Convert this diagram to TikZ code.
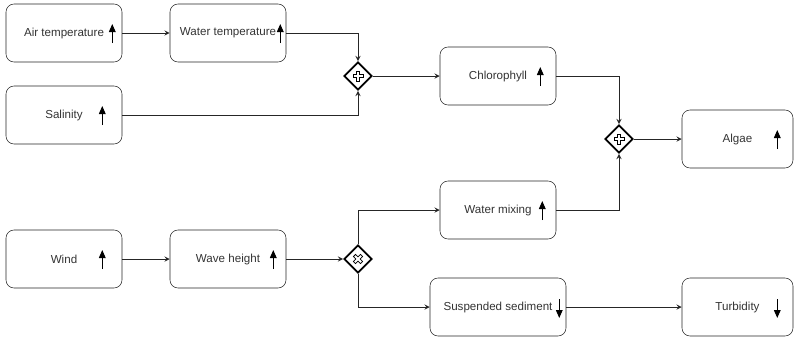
\documentclass[tikz,border=0pt]{standalone}
\usepackage{fontspec}
\setmainfont{Liberation Sans}
\usetikzlibrary{shapes}
\usetikzlibrary{arrows.meta}
\usetikzlibrary{calc}

\begin{document}
\begin{tikzpicture}[x=0.75pt, y=-0.75pt,
	box/.style={draw=black!85, rounded corners=6pt, minimum width=87pt, minimum height=43.5pt, inner sep=0pt, font=\fontsize{8.7}{10}\selectfont, text=black!80},
	gate/.style={draw=black, line width=1.4pt, diamond, minimum width=21pt, minimum height=21pt, inner sep=0pt},
	link/.style={-stealth, draw=black!85, line width=0.75pt},
	upmark/.style={-{Triangle[width=5pt,length=6pt]}, line width=0.8pt}]
	
	\useasboundingbox (0,0) rectangle (795,340);
	
	\node[box] (air) at (64,33) {Air temperature};
	\node[box] (water) at (228,33) {Water temperature};
	\node[box] (sal) at (64,115) {Salinity};
	\node[gate] (g1) at (358,76) {};
	\node[box] (chl) at (498,76) {Chlorophyll};
	\node[gate] (g2) at (619,139) {};
	\node[box, minimum width=83.25pt] (algae) at (737.5,139) {Algae};
	\node[box] (mix) at (498,210) {Water mixing};
	\node[box] (wind) at (64,259) {Wind};
	\node[box] (wave) at (228,259) {Wave height};
	\node[gate] (g3) at (358,259) {};
	\node[box, minimum width=102pt] (sed) at (498,307) {Suspended sediment};
	\node[box, minimum width=83.25pt] (turb) at (737.5,307) {Turbidity};
	
	%  gate signs
	\foreach \g in {g1,g2}
		\draw[line width=0.6pt, shift={(\g.center)}] (-1.5,-5) -- (1.5,-5) -- (1.5,-1.5) -- (5,-1.5) -- (5,1.5) -- (1.5,1.5) -- (1.5,5) -- (-1.5,5) -- (-1.5,1.5) -- (-5,1.5) -- (-5,-1.5) -- (-1.5,-1.5) -- cycle;
	\draw[line width=0.6pt, shift={(g3.center)}, rotate=45] (-1.5,-5) -- (1.5,-5) -- (1.5,-1.5) -- (5,-1.5) -- (5,1.5) -- (1.5,1.5) -- (1.5,5) -- (-1.5,5) -- (-1.5,1.5) -- (-5,1.5) -- (-5,-1.5) -- (-1.5,-1.5) -- cycle;
	
	%  temperature and salinity
	\draw[link] (air) -- (water);
	\draw[link] (water.east) -| (g1.north);
	\draw[link] (sal.east) -| (g1.south);
	\draw[link] (g1) -- (chl);
	%  to algae
	\draw[link] (chl.east) -| (g2.north);
	\draw[link] (mix.east) -| (g2.south);
	\draw[link] (g2) -- (algae);
	%  wind and waves
	\draw[link] (wind) -- (wave);
	\draw[link] (wave) -- (g3);
	\draw[link] (g3.north) |- (mix.west);
	\draw[link] (g3.south) |- (sed.west);
	\draw[link] (sed) -- (turb);
	
	%  up and down marks
	\draw[upmark] ($(air.east)+(-10,10)$) -- ++(0,-19);
	\draw[upmark] ($(water.east)+(-6,10)$) -- ++(0,-19);
	\draw[upmark] ($(sal.east)+(-20,10)$) -- ++(0,-19);
	\draw[upmark] ($(chl.east)+(-16,10)$) -- ++(0,-19);
	\draw[upmark] ($(algae.east)+(-16,10)$) -- ++(0,-19);
	\draw[upmark] ($(mix.east)+(-14,10)$) -- ++(0,-19);
	\draw[upmark] ($(wind.east)+(-20,10)$) -- ++(0,-19);
	\draw[upmark] ($(wave.east)+(-13,10)$) -- ++(0,-19);
	\draw[upmark] ($(sed.east)+(-7,-8)$) -- ++(0,19);
	\draw[upmark] ($(turb.east)+(-16,-8)$) -- ++(0,19);
\end{tikzpicture}
\end{document}
